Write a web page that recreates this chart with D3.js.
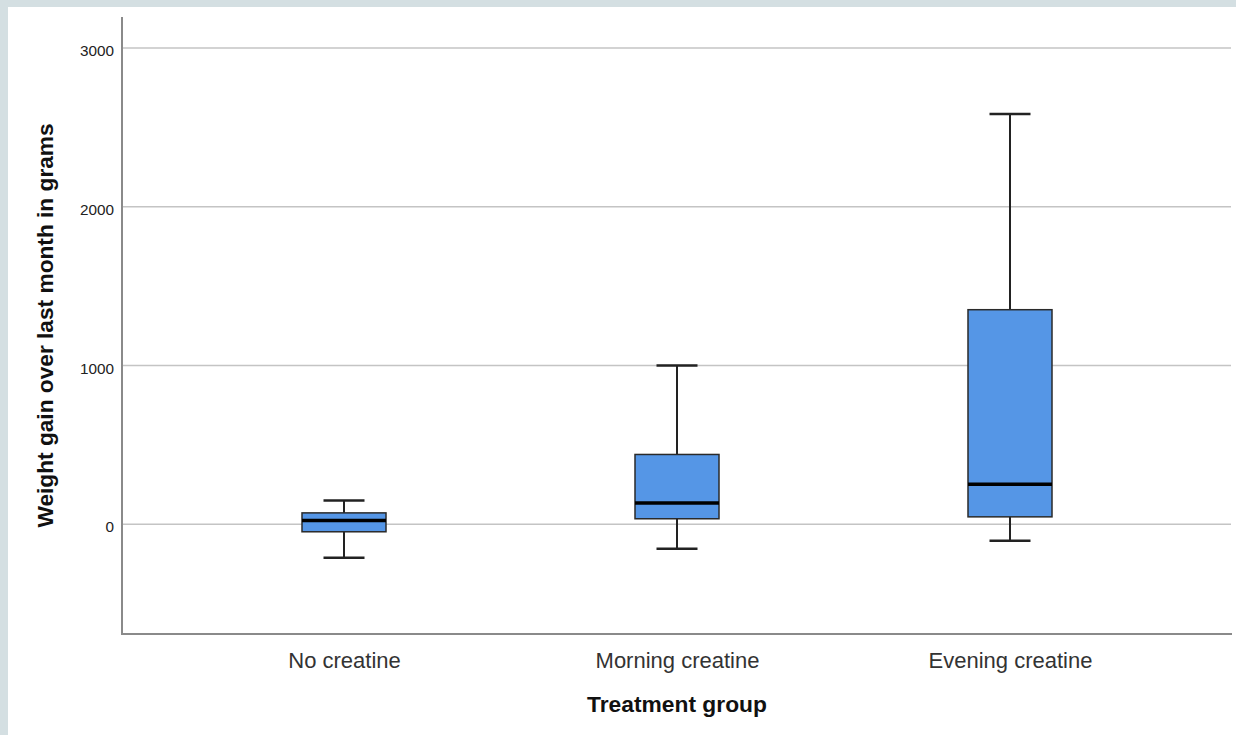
<!DOCTYPE html>
<html>
<head>
<meta charset="utf-8">
<script src="https://cdn.jsdelivr.net/npm/d3@7"></script>
<style>
  html, body { margin: 0; padding: 0; background: #d4dfe2; }
  svg { display: block; }
</style>
</head>
<body>
<svg id="chart" width="1236" height="735"></svg>
<script>
// Weight gain (grams) per treatment group, box-plot summaries
const groups = ["No creatine", "Morning creatine", "Evening creatine"];
const whiskerLow = [-211, -154, -104];
const quartile1 = [-47, 35, 47];
const medians = [24, 134, 253];
const quartile3 = [72, 440, 1352];
const whiskerHigh = [150, 1000, 2585];
const yTicks = [0, 1000, 2000, 3000];

const svg = d3.select("#chart");
const W = 1236, H = 735;

// white panel inside the light frame
svg.append("rect").attr("x", 8).attr("y", 7).attr("width", W - 8).attr("height", H - 7).attr("fill", "#ffffff");

const plot = { left: 122, right: 1232, top: 17, bottom: 634 };

const y = d3.scaleLinear().domain([-691, 3196]).range([plot.bottom, plot.top]);
const x = d3.scalePoint().domain(groups).range([177.5, 1176.5]).padding(0.5);

const font = "'Liberation Sans', Arial, Helvetica, sans-serif";

// horizontal gridlines
svg.append("g").selectAll("line").data(yTicks).join("line")
  .attr("x1", plot.left).attr("x2", 1231)
  .attr("y1", d => y(d)).attr("y2", d => y(d))
  .attr("stroke", "#c4c4c4").attr("stroke-width", 1.5);

// y axis labels
const yAxis = d3.axisLeft(y).tickValues(yTicks).tickSize(0).tickPadding(8).tickFormat(d3.format("d"));
const gy = svg.append("g").attr("transform", `translate(${plot.left},0)`).call(yAxis);
gy.select(".domain").remove();
gy.selectAll("text").attr("font-family", font).attr("font-size", 15.3).attr("fill", "#222").attr("dy", "0.5em");

// x axis labels
const xAxis = d3.axisBottom(x).tickSize(0).tickPadding(18);
const gx = svg.append("g").attr("transform", `translate(0,${plot.bottom})`).call(xAxis);
gx.select(".domain").remove();
gx.selectAll("text").attr("font-family", font).attr("font-size", 22).attr("fill", "#333");

// axis lines
svg.append("line").attr("x1", plot.left).attr("x2", plot.left).attr("y1", plot.top).attr("y2", plot.bottom + 1)
  .attr("stroke", "#8a8a8a").attr("stroke-width", 2);
svg.append("line").attr("x1", plot.left).attr("x2", plot.right).attr("y1", plot.bottom).attr("y2", plot.bottom)
  .attr("stroke", "#8a8a8a").attr("stroke-width", 2);

// boxes
const boxW = 84, capW = 41;
const data = groups.map((g, i) => ({
  g, lo: whiskerLow[i], q1: quartile1[i], med: medians[i], q3: quartile3[i], hi: whiskerHigh[i]
}));

const gb = svg.append("g").selectAll("g").data(data).join("g");

gb.append("line").attr("x1", d => x(d.g)).attr("x2", d => x(d.g))
  .attr("y1", d => y(d.hi)).attr("y2", d => y(d.q3))
  .attr("stroke", "#222").attr("stroke-width", 2);
gb.append("line").attr("x1", d => x(d.g)).attr("x2", d => x(d.g))
  .attr("y1", d => y(d.q1)).attr("y2", d => y(d.lo))
  .attr("stroke", "#222").attr("stroke-width", 2);
gb.append("line").attr("x1", d => x(d.g) - capW / 2).attr("x2", d => x(d.g) + capW / 2)
  .attr("y1", d => y(d.hi)).attr("y2", d => y(d.hi))
  .attr("stroke", "#222").attr("stroke-width", 2.5);
gb.append("line").attr("x1", d => x(d.g) - capW / 2).attr("x2", d => x(d.g) + capW / 2)
  .attr("y1", d => y(d.lo)).attr("y2", d => y(d.lo))
  .attr("stroke", "#222").attr("stroke-width", 2.5);

gb.append("rect")
  .attr("x", d => x(d.g) - boxW / 2).attr("width", boxW)
  .attr("y", d => y(d.q3)).attr("height", d => y(d.q1) - y(d.q3))
  .attr("fill", "#5596e6").attr("stroke", "#2a2a2a").attr("stroke-width", 1.5);

gb.append("line").attr("x1", d => x(d.g) - boxW / 2).attr("x2", d => x(d.g) + boxW / 2)
  .attr("y1", d => y(d.med)).attr("y2", d => y(d.med))
  .attr("stroke", "#000").attr("stroke-width", 3.5);

// axis titles
svg.append("text")
  .attr("transform", "translate(53,325.5) rotate(-90)")
  .attr("text-anchor", "middle")
  .attr("font-family", font).attr("font-size", 22.7).attr("font-weight", "bold").attr("fill", "#111")
  .text("Weight gain over last month in grams");

svg.append("text")
  .attr("x", 677).attr("y", 712)
  .attr("text-anchor", "middle")
  .attr("font-family", font).attr("font-size", 22.8).attr("font-weight", "bold").attr("fill", "#111")
  .text("Treatment group");
</script>
</body>
</html>
